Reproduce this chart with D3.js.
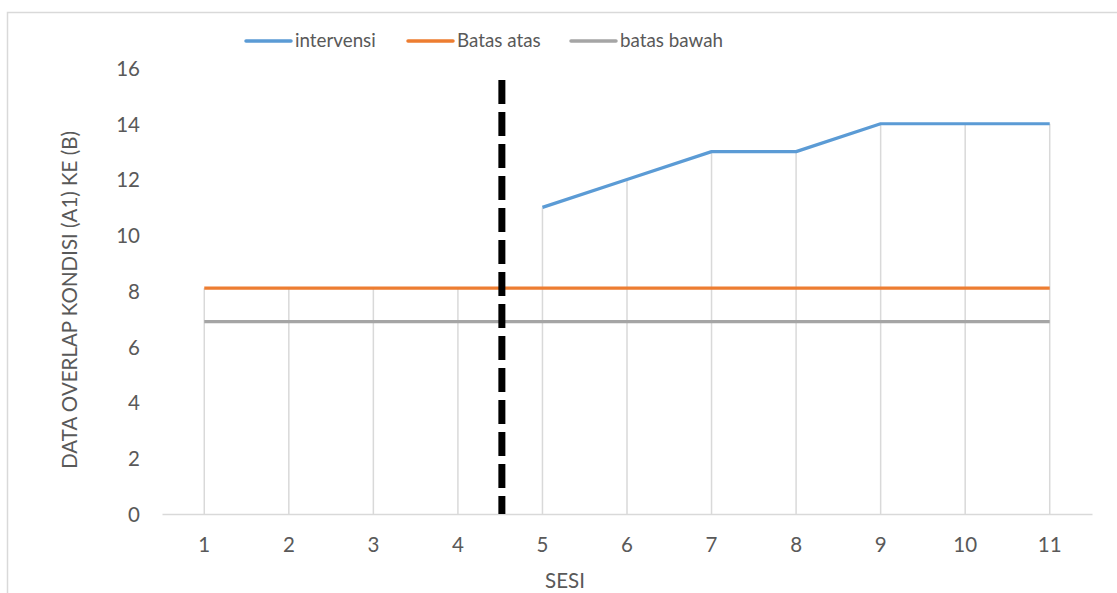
<!DOCTYPE html>
<html><head><meta charset="utf-8">
<script src="https://cdn.jsdelivr.net/npm/d3@7"></script>
<style>body{margin:0;background:#fff}text{font-family:Lato,"Open Sans",sans-serif;fill:#595959}</style>
</head><body><svg id="c" width="1117" height="593"></svg>
<script>
const categories = ["1","2","3","4","5","6","7","8","9","10","11"];
const intervensi = [null,null,null,null,11,12,13,13,14,14,14];
const batasAtas = [8.1,8.1,8.1,8.1,8.1,8.1,8.1,8.1,8.1,8.1,8.1];
const batasBawah = [6.9,6.9,6.9,6.9,6.9,6.9,6.9,6.9,6.9,6.9,6.9];
const yTicks = [0,2,4,6,8,10,12,14,16];
const phaseLine = 4.52;
const seriesNames = ["intervensi","Batas atas","batas bawah"];
const colors = ["#5b9bd5","#ed7d31","#a5a5a5"];

(function(){
const svg = d3.select("#c");
svg.append("rect").attr("x",7.5).attr("y",12.5).attr("width",1200).attr("height",700)
  .attr("fill","none").attr("stroke","#d9d9d9").attr("stroke-width",1.5);

const pL=162, pR=1092, pT=68, pB=514;
const x = d3.scaleBand().domain(categories).range([pL,pR]);
const xc = c => x(c)+x.bandwidth()/2;
const xv = v => pL + (v-0.5)*x.bandwidth();
const y = d3.scaleLinear().domain([0,16]).range([pB,pT]);

const series=[intervensi,batasAtas,batasBawah];
svg.append("g").selectAll("line").data(categories).join("line")
  .attr("x1",d=>xc(d)).attr("x2",d=>xc(d))
  .attr("y1",pB).attr("y2",(d,i)=>y(d3.max(series,s=>s[i])))
  .attr("stroke","#d9d9d9").attr("stroke-width",1.5);

const xa = svg.append("g").attr("transform",`translate(0,${pB})`).call(d3.axisBottom(x).tickSize(0).tickPadding(0));
xa.select(".domain").attr("stroke","#d9d9d9").attr("stroke-width",1.5);
xa.selectAll("text").style("font-size","20.5px").attr("fill","#595959").attr("dy",null).attr("y",38);

const ya = svg.append("g").attr("transform",`translate(${pL},0)`).call(d3.axisLeft(y).tickValues(yTicks).tickSize(0).tickPadding(22));
ya.select(".domain").remove();
ya.selectAll("text").style("font-size","20.5px").attr("fill","#595959").attr("dy","0.36em");

const line = d3.line().defined(d=>d.v!=null).x(d=>xc(d.c)).y(d=>y(d.v));
[[batasBawah,colors[2]],[batasAtas,colors[1]],[intervensi,colors[0]]].forEach(([s,col])=>{
  svg.append("path").datum(categories.map((c,i)=>({c,v:s[i]})))
    .attr("d",line).attr("fill","none").attr("stroke",col).attr("stroke-width",3.2).attr("stroke-linejoin","round");
});

svg.append("line").attr("x1",xv(phaseLine)).attr("x2",xv(phaseLine)).attr("y1",80).attr("y2",pB)
  .attr("stroke","#000").attr("stroke-width",7).attr("stroke-dasharray","24 8");

const lx=[245,407,570];
seriesNames.forEach((n,i)=>{
  svg.append("line").attr("x1",lx[i]+1).attr("x2",lx[i]+46).attr("y1",41).attr("y2",41)
    .attr("stroke",colors[i]).attr("stroke-width",3.5).attr("stroke-linecap","round");
  svg.append("text").attr("x",lx[i]+50).attr("y",47).text(n).style("font-size","18.8px");
});

svg.append("text").attr("x",565).attr("y",588).attr("text-anchor","middle").style("font-size","20.5px").text("SESI");
svg.append("text").attr("transform","translate(77,300) rotate(-90)").attr("text-anchor","middle").style("font-size","20.5px").text("DATA OVERLAP KONDISI (A1) KE (B)");
})();
</script></body></html>
